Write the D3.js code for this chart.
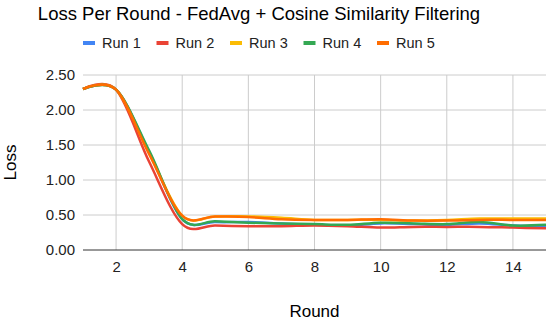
<!DOCTYPE html>
<html>
<head>
<meta charset="utf-8">
<script src="https://cdn.jsdelivr.net/npm/d3@7"></script>
<style>
  body { margin: 0; background: #fff; }
  text { font-family: Arial, "Liberation Sans", sans-serif; }
</style>
</head>
<body>
<script>
// chart data
const rounds = [1, 2, 3, 4, 5, 6, 7, 8, 9, 10, 11, 12, 13, 14, 15];
const runNames = ["Run 1", "Run 2", "Run 3", "Run 4", "Run 5"];
const run1 = [2.30, 2.29, 1.40, 0.44, 0.40, 0.40, 0.38, 0.36, 0.35, 0.38, 0.37, 0.36, 0.38, 0.35, 0.34];
const run2 = [2.30, 2.29, 1.26, 0.37, 0.35, 0.34, 0.34, 0.35, 0.34, 0.32, 0.33, 0.33, 0.33, 0.32, 0.31];
const run3 = [2.30, 2.29, 1.39, 0.49, 0.48, 0.48, 0.46, 0.43, 0.43, 0.43, 0.42, 0.43, 0.45, 0.45, 0.45];
const run4 = [2.30, 2.29, 1.42, 0.44, 0.41, 0.39, 0.38, 0.37, 0.36, 0.39, 0.38, 0.37, 0.40, 0.35, 0.36];
const run5 = [2.30, 2.29, 1.37, 0.49, 0.48, 0.47, 0.44, 0.43, 0.43, 0.44, 0.42, 0.42, 0.43, 0.43, 0.43];
const colors = ["#4285F4", "#EA4335", "#FBBC04", "#34A853", "#FF6D01"];
const yTicks = [0, 0.5, 1, 1.5, 2, 2.5];
const xTicks = [2, 4, 6, 8, 10, 12, 14];

const W = 550, H = 321;
const margin = {left: 83, right: 4, top: 75, bottom: 71};

const svg = d3.select("body").append("svg")
    .attr("width", W)
    .attr("height", H);

const x = d3.scaleLinear().domain([1, 15]).range([margin.left, W - margin.right]);
const y = d3.scaleLinear().domain([0, 2.5]).range([H - margin.bottom, margin.top]);

// title
svg.append("text")
    .attr("x", 259).attr("y", 20)
    .attr("text-anchor", "middle")
    .style("font-size", "18.5px")
    .attr("fill", "#000")
    .text("Loss Per Round - FedAvg + Cosine Similarity Filtering");

// legend
const legend = svg.selectAll(".leg").data(runNames).enter().append("g")
    .attr("class", "leg")
    .attr("transform", (d, i) => `translate(${83 + i * 73.5},43)`);
legend.append("line")
    .attr("x1", 0).attr("x2", 12).attr("y1", 0).attr("y2", 0)
    .attr("stroke", (d, i) => colors[i])
    .attr("stroke-width", 4);
legend.append("text")
    .attr("x", 19).attr("y", 5)
    .style("font-size", "14.5px")
    .attr("fill", "#222")
    .text(d => d);

// gridlines
svg.append("g").selectAll("line").data(yTicks.filter(d => d > 0)).enter().append("line")
    .attr("x1", x(1)).attr("x2", x(15))
    .attr("y1", d => y(d)).attr("y2", d => y(d))
    .attr("stroke", "#ccc");
svg.append("g").selectAll("line").data(xTicks).enter().append("line")
    .attr("x1", d => x(d)).attr("x2", d => x(d))
    .attr("y1", y(0)).attr("y2", y(2.5))
    .attr("stroke", "#ccc");

// axes
const yAxis = svg.append("g")
    .attr("transform", `translate(${margin.left},0)`)
    .call(d3.axisLeft(y).tickValues(yTicks).tickFormat(d3.format(".2f")).tickSize(0).tickPadding(8));
yAxis.select(".domain").remove();
yAxis.selectAll("text").style("font-size", "15px").attr("fill", "#222")
    .style("font-family", "Arial, 'Liberation Sans', sans-serif");

const xAxis = svg.append("g")
    .attr("transform", `translate(0,${y(0)})`)
    .call(d3.axisBottom(x).tickValues(xTicks).tickSize(0).tickPadding(11));
xAxis.select(".domain").remove();
xAxis.selectAll("text").style("font-size", "15px").attr("fill", "#222")
    .style("font-family", "Arial, 'Liberation Sans', sans-serif");

// axis titles
svg.append("text")
    .attr("transform", `translate(16,${(y(0) + y(2.5)) / 2}) rotate(-90)`)
    .attr("text-anchor", "middle")
    .style("font-size", "17px")
    .text("Loss");
svg.append("text")
    .attr("x", (x(1) + x(15)) / 2).attr("y", 317)
    .attr("text-anchor", "middle")
    .style("font-size", "17px")
    .text("Round");

// lines
const series = [run1, run2, run3, run4, run5];
const line = d3.line()
    .x((d, i) => x(rounds[i]))
    .y(d => y(d))
    .curve(d3.curveCardinal.tension(0));

svg.append("g").selectAll("path").data(series).enter().append("path")
    .attr("d", d => line(d))
    .attr("fill", "none")
    .attr("stroke", (d, i) => colors[i])
    .attr("stroke-width", 2.5);

// baseline
svg.append("line")
    .attr("x1", x(1)).attr("x2", x(15))
    .attr("y1", y(0)).attr("y2", y(0))
    .attr("stroke", "#333");
</script>
</body>
</html>
